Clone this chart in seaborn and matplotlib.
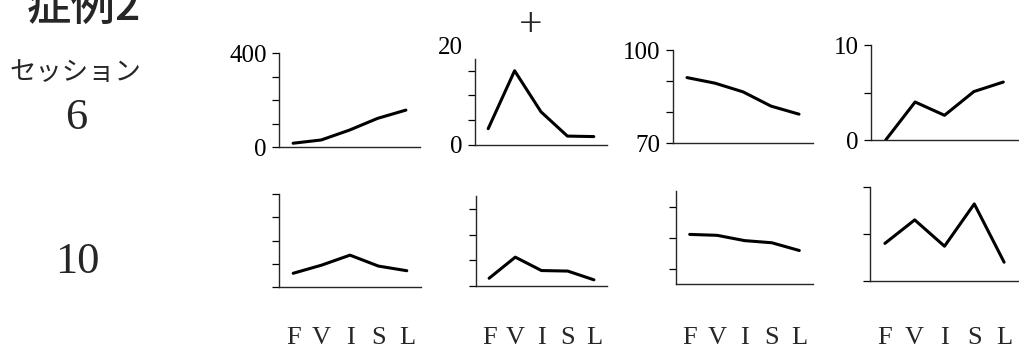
import matplotlib
matplotlib.use("Agg")
import matplotlib.pyplot as plt
import pandas as pd
import seaborn as sns

# phases on the x axis
phases = ["F", "V", "I", "S", "L"]

# session 6 (top row)
s6_a = [16, 30, 72, 122, 157]
s6_b = [3.3, 15.0, 6.7, 1.8, 1.7]
s6_c = [91.1, 89.3, 86.5, 81.9, 79.3]
s6_d = [0.0, 4.0, 2.6, 5.1, 6.1]

# session 10 (bottom row)
s10_a = [59, 94, 137, 90, 70]
s10_b = [1.5, 5.6, 3.0, 2.9, 1.2]
s10_c = [86.0, 85.7, 84.0, 83.3, 80.8]
s10_d = [4.0, 6.5, 3.7, 8.2, 2.0]

ylims = [(0, 400), (0, 20), (70, 100), (0, 10)]
yticks_top = [[0, 100, 200, 300, 400], [0, 5, 10, 15, 20], [70, 80, 90, 100], [0, 5, 10]]
ylabels_top = [["0", "", "", "", "400"], ["0", "", "", "", "20"], ["70", "", "", "100"], ["0", "", "10"]]
yticks_bot = [[0, 100, 200, 300, 400], [0, 5, 10, 15], [75, 85, 95], [0, 5, 10]]

sns.set_style("ticks")
plt.rcParams["font.family"] = ["Liberation Serif", "DejaVu Serif"]
plt.rcParams["axes.linewidth"] = 1.0

W, H = 1020, 351
fig = plt.figure(figsize=(W / 100, H / 100), dpi=100)


def add_ax(x0, y0, x1, y1):
    return fig.add_axes([x0 / W, 1 - y1 / H, (x1 - x0) / W, (y1 - y0) / H])


boxes_top = [(279, 53, 420, 147), (475, 46, 607, 145), (673, 50, 813, 143), (871, 45, 1018, 140)]
boxes_bot = [(279, 194, 421, 287), (476, 183, 607, 286), (676, 191, 813, 284), (870, 187, 1019, 281)]

rows = [
    (boxes_top, [s6_a, s6_b, s6_c, s6_d], yticks_top, True),
    (boxes_bot, [s10_a, s10_b, s10_c, s10_d], yticks_bot, False),
]

for boxes, series, ticks, top in rows:
    for i, (box, vals) in enumerate(zip(boxes, series)):
        ax = add_ax(*box)
        df = pd.DataFrame({"phase": phases, "value": vals})
        sns.lineplot(data=df, x="phase", y="value", ax=ax, color="black",
                     linewidth=2.2, sort=False)
        ax.set_xlim(-0.5, 4.5)
        ax.set_ylim(*ylims[i])
        ax.set_xlabel("")
        ax.set_ylabel("")
        ax.set_yticks(ticks[i])
        sns.despine(ax=ax)
        if i == 1:
            ax.spines["left"].set_bounds(0, 17.4)
        ax.tick_params(axis="y", direction="out", length=5, width=0.9, pad=4,
                       labelsize=18, colors="black")
        if top:
            ax.set_yticklabels(ylabels_top[i])
            if i == 1:
                ax.yaxis.get_major_ticks()[-1].tick1line.set_visible(False)
            ax.set_xticks([])
        else:
            ax.set_yticklabels([])
            # labels all sit on one line, whatever the axes bottom
            ax.tick_params(axis="x", length=0, pad=(327 - box[3]) * 0.72, labelsize=19)

fig.text(27 / W, 1 - 20 / H, "症例2", family=["Noto Sans CJK JP"], fontsize=32,
         fontweight="medium", va="baseline", ha="left")
fig.text(75 / W, 1 - 72 / H, "セッション", family=["Noto Sans CJK JP"], fontsize=19,
         va="center", ha="center")
fig.text(76 / W, 1 - 118 / H, "6", fontsize=32, va="center", ha="center")
fig.text(77 / W, 1 - 262 / H, "10", fontsize=32, va="center", ha="center")
fig.text(531 / W, 1 - 26 / H, "+", fontsize=30, va="center", ha="center")

fig.savefig("out.png", dpi=100)
